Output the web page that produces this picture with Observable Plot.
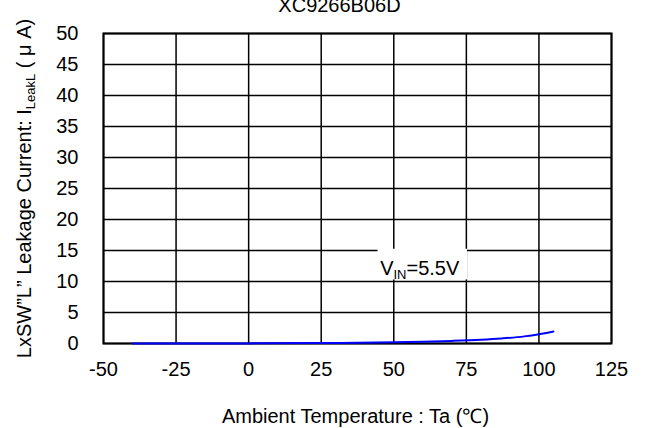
<!DOCTYPE html>
<html>
<head>
<meta charset="utf-8">
<script src="https://cdn.jsdelivr.net/npm/d3@7"></script>
<script src="https://cdn.jsdelivr.net/npm/@observablehq/plot@0.6"></script>
<style>
  html, body { margin: 0; padding: 0; background: #fff; }
  #chart svg { display: block; }
</style>
</head>
<body>
<div id="chart"></div>
<script>
// ---- data ----
const chartTitle = "XC9266B06D";
const xLabel = "Ambient Temperature : Ta (\u2103)";
const yLabelMain = "LxSW\u201DL\u201D Leakage Current: I";
const yLabelSub = "LeakL";
const yLabelTail = " ( \u03BC A)";
const tempC  = [-40, -25, 0, 25, 50, 60, 70, 80, 87, 95, 100, 105];
const leakUA = [0, 0, 0.02, 0.07, 0.2, 0.3, 0.42, 0.6, 0.8, 1.15, 1.5, 1.95];
const xTicks = [-50, -25, 0, 25, 50, 75, 100, 125];
const yTicks = [0, 5, 10, 15, 20, 25, 30, 35, 40, 45, 50];
const annMain = "V", annSub = "IN", annTail = "=5.5V";
const annotation = [{x: 45.3, y: 11.0, bx1: 44.6, bx2: 75.4, by1: 10.25, by2: 15.2}];

const series = tempC.map((t, i) => ({t, v: leakUA[i]}));
const font = "Liberation Sans, Arial, sans-serif";

const chart = Plot.plot({
  width: 646,
  height: 428,
  marginLeft: 103,
  marginRight: 35,
  marginTop: 33,
  marginBottom: 85,
  style: {fontFamily: font, fontSize: "20px", color: "#000", background: "#fff"},
  x: {domain: [-50, 125], ticks: xTicks},
  y: {domain: [0, 50], ticks: yTicks},
  marks: [
    Plot.gridX(xTicks, {stroke: "#000", strokeOpacity: 1, strokeWidth: 1.5}),
    Plot.gridY(yTicks, {stroke: "#000", strokeOpacity: 1, strokeWidth: 1.5}),
    Plot.rect(annotation, {x1: "bx1", x2: "bx2", y1: "by1", y2: "by2", fill: "#fff"}),
    Plot.frame({stroke: "#000", strokeWidth: 2}),
    Plot.line(series, {x: "t", y: "v", stroke: "#0000ff", strokeWidth: 2, curve: "monotone-x"}),
    Plot.text(annotation, {x: "x", y: "y", text: () => annMain + annSub + annTail, textAnchor: "start", lineAnchor: "bottom", fontSize: 20, fill: "#000"}),
    Plot.axisX(xTicks, {tickSize: 0, tickPadding: 18, fontSize: 20, label: null, tickFormat: d => String(d)}),
    Plot.axisY(yTicks, {tickSize: 0, tickPadding: 25, fontSize: 20, label: null, tickFormat: d => String(d)}),
    Plot.text([chartTitle], {frameAnchor: "top", lineAnchor: "bottom", dy: -22, dx: -18, fontSize: 20, fill: "#000"}),
    Plot.text([xLabel], {frameAnchor: "bottom", lineAnchor: "bottom", dy: 79, dx: -2, fontSize: 20, fill: "#000"}),
    Plot.text([yLabelMain + yLabelSub + yLabelTail], {frameAnchor: "left", textAnchor: "middle", rotate: -90, lineAnchor: "bottom", dx: -73, fontSize: 20, fill: "#000"})
  ]
});

document.getElementById("chart").appendChild(chart);

// subscripts
function subscript(full, main, sub, tail, subSize, shift) {
  d3.select(chart).selectAll("text").filter(function () { return this.textContent === full; })
    .each(function () {
      const sel = d3.select(this);
      const tspan = sel.select("tspan");
      const target = tspan.empty() ? sel : tspan;
      target.text(null);
      target.append("tspan").text(main);
      target.append("tspan").attr("font-size", subSize).attr("dy", shift).text(sub);
      target.append("tspan").attr("dy", -shift).text(tail);
    });
}
subscript(annMain + annSub + annTail, annMain, annSub, annTail, 13, 4);
subscript(yLabelMain + yLabelSub + yLabelTail, yLabelMain, yLabelSub, yLabelTail, 13, 4);
</script>
</body>
</html>
